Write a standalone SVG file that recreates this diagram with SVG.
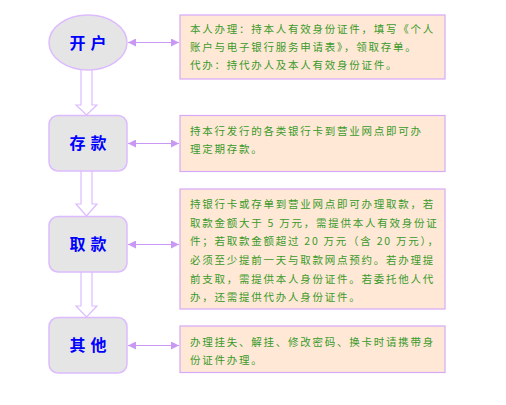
<svg xmlns="http://www.w3.org/2000/svg" width="506" height="405" viewBox="0 0 506 405">
<defs>
<style>
.node{fill:#e5e5e5;stroke:#dcbcff;stroke-width:1.5}
.nt{font-family:"Noto Sans CJK SC","Noto Sans CJK JP",sans-serif;font-size:16px;font-weight:bold;fill:#0000ff;text-anchor:middle;letter-spacing:5px}
.box{fill:#ffe8d6;stroke:#d6a8f8;stroke-width:1.2}
.bt{font-family:"Noto Sans CJK SC","Noto Sans CJK JP",sans-serif;font-size:10.5px;fill:#3a9a2a;letter-spacing:1.75px}
.conn{stroke:#c898f4;stroke-width:1.2;fill:none}
.hollow{fill:#ffffff;stroke:#dcbcff;stroke-width:1.2}
</style>
<marker id="ah" viewBox="0 0 10 10" refX="10" refY="5" markerWidth="8" markerHeight="8" markerUnits="userSpaceOnUse" orient="auto-start-reverse">
<path d="M0,0 L10,5 L0,10 Z" fill="#c898f4"/>
</marker>
</defs>
<rect width="506" height="405" fill="#ffffff"/>
<g id="connectors">
<path class="hollow" d="M81,70 L81,105 L76,105 L86.5,115 L97,105 L92,105 L92,70"/>
<path class="hollow" d="M81,171 L81,204 L76,204 L86.5,216 L97,204 L92,204 L92,171"/>
<path class="hollow" d="M81,272 L81,306 L76,306 L86.5,317 L97,306 L92,306 L92,272"/>
<line class="conn" x1="128" y1="42.5" x2="179" y2="42.5" marker-start="url(#ah)" marker-end="url(#ah)"/>
<line class="conn" x1="128" y1="143.5" x2="179" y2="143.5" marker-start="url(#ah)" marker-end="url(#ah)"/>
<line class="conn" x1="128" y1="244.5" x2="179" y2="244.5" marker-start="url(#ah)" marker-end="url(#ah)"/>
<line class="conn" x1="128" y1="345.5" x2="179" y2="345.5" marker-start="url(#ah)" marker-end="url(#ah)"/>
</g>
<g id="node-kaihu">
<ellipse class="node" cx="88" cy="42.5" rx="39" ry="27.5"/>
<text class="nt" x="90.5" y="48.5">开户</text>
</g>
<g id="node-cunkuan">
<rect class="node" x="49" y="115.5" width="78" height="55.5" rx="9"/>
<text class="nt" x="90.5" y="149">存款</text>
</g>
<g id="node-qukuan">
<rect class="node" x="49" y="216.5" width="78" height="55.5" rx="9"/>
<text class="nt" x="90.5" y="250">取款</text>
</g>
<g id="node-qita">
<rect class="node" x="49" y="317.5" width="78" height="55.5" rx="9"/>
<text class="nt" x="90.5" y="351">其他</text>
</g>
<g id="box-kaihu">
<rect class="box" x="180" y="15" width="265" height="64"/>
<text class="bt"><tspan x="190" y="32.5">本人办理：持本人有效身份证件，填写《个人</tspan><tspan x="190" y="51">账户与电子银行服务申请表》，领取存单。</tspan><tspan x="190" y="69">代办：持代办人及本人有效身份证件。</tspan></text>
</g>
<g id="box-cunkuan">
<rect class="box" x="180" y="115.5" width="265" height="56"/>
<text class="bt"><tspan x="190" y="135">持本行发行的各类银行卡到营业网点即可办</tspan><tspan x="190" y="152.5">理定期存款。</tspan></text>
</g>
<g id="box-qukuan">
<rect class="box" x="180" y="189" width="265" height="120"/>
<text class="bt"><tspan x="190" y="207.5">持银行卡或存单到营业网点即可办理取款，若</tspan><tspan x="190" y="226.5">取款金额大于 5 万元，需提供本人有效身份证</tspan><tspan x="190" y="245">件；若取款金额超过 20 万元（含 20 万元），</tspan><tspan x="190" y="263.5">必须至少提前一天与取款网点预约。若办理提</tspan><tspan x="190" y="282.5">前支取，需提供本人身份证件。若委托他人代</tspan><tspan x="190" y="300.5">办，还需提供代办人身份证件。</tspan></text>
</g>
<g id="box-qita">
<rect class="box" x="180" y="326" width="265" height="46.5"/>
<text class="bt"><tspan x="190" y="346">办理挂失、解挂、修改密码、换卡时请携带身</tspan><tspan x="190" y="364">份证件办理。</tspan></text>
</g>
</svg>
